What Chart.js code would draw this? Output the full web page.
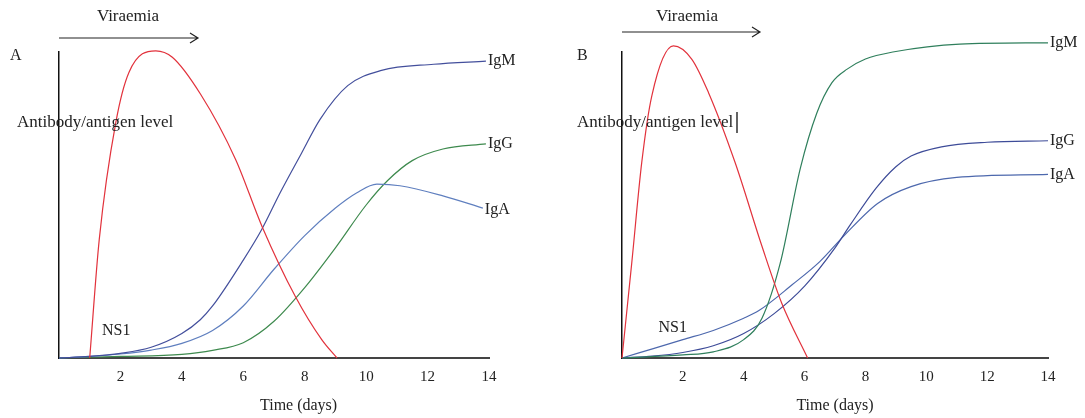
<!DOCTYPE html>
<html>
<head>
<meta charset="utf-8">
<script src="https://cdn.jsdelivr.net/npm/chart.js@4"></script>
<style>
  body { margin: 0; background: #fff; }
  #wrap { position: relative; width: 1085px; height: 418px; }
  canvas { position: absolute; top: 0; }
  #chartA { left: 0; }
  #chartB { left: 540px; }
</style>
</head>
<body>
<div id="wrap">
  <canvas id="chartA" width="540" height="418"></canvas>
  <canvas id="chartB" width="545" height="418"></canvas>
</div>
<script>
// Panel A values (time in days, relative level)
const ns1A = [[1, 0], [1.31, 38.7], [1.85, 77], [2.28, 93.4], [3.15, 100.4], [3.69, 98.3], [4.61, 86.2], [5.75, 64.9], [6.61, 43], [7.7, 20], [8.56, 5.9], [9.05, 0]];
const igmA = [[0, 0], [1, 0.5], [2, 1.5], [3, 3.5], [4, 8], [4.6, 12.5], [5, 17], [6, 32], [6.6, 42], [7.2, 54], [7.9, 67], [8.5, 78], [9.4, 89], [10.5, 94], [12.2, 96], [13.9, 97]];
const igaA = [[0, 0], [1, 0.5], [2, 1.3], [3, 2.6], [4, 4.8], [5, 9], [6, 17], [7, 29], [8, 40], [9, 49], [9.7, 54], [10.35, 56.8], [11.1, 56.3], [12.5, 53], [13.8, 49]];
const iggA = [[0, 0], [2, 0.5], [4, 1.2], [5, 2.5], [6, 5], [7, 12], [8, 23], [9, 36], [10, 50], [10.7, 58], [11.5, 64.5], [12.5, 68.3], [13.9, 70]];

// Panel B values
const ns1B = [[0, 0], [0.32, 31], [0.65, 64], [0.98, 85.7], [1.69, 102], [2.29, 97.7], [2.84, 86.8], [3.72, 63.8], [4.6, 36.5], [5.25, 17.9], [6.1, 0]];
const igmB = [[0, 0], [2, 1], [3, 2], [4, 6], [4.6, 13], [5.2, 31], [5.86, 62], [6.4, 80], [6.9, 90], [7.4, 94.4], [8, 97.7], [8.9, 100], [11.1, 102.6], [14, 103]];
const iggB = [[0, 0], [1, 0.6], [2, 1.8], [3, 4], [4, 8], [5, 14.5], [6, 23.5], [7, 36], [7.5, 43.5], [8.35, 55.5], [9, 62.5], [9.5, 66], [10.5, 69], [12, 70.5], [14, 71]];
const igaB = [[0, 0], [1, 3], [2, 6], [3, 9], [4, 13], [4.5, 15.5], [5.6, 24], [6.5, 31.5], [7.3, 40], [8.4, 50.5], [9.5, 56], [11, 59], [14, 60]];

const xTicks = [2, 4, 6, 8, 10, 12, 14];
const SERIF = '"Liberation Serif", "DejaVu Serif", serif';

function pts(arr) {
    return arr.map(p => ({ x: p[0], y: p[1] }));
}

function line(data, color, label) {
    return {
        label: label,
        data: pts(data),
        borderColor: color,
        borderWidth: 1.2,
        pointRadius: 0,
        fill: false,
        cubicInterpolationMode: 'monotone',
        clip: false
    };
}

// Draw the panel texts: letter, Viraemia arrow, axis labels and curve names
function notesPlugin(cfg) {
    return {
        id: 'notes',
        afterDraw(chart) {
            const c = chart.ctx;
            const xs = chart.scales.x, ys = chart.scales.y;
            c.save();
            c.fillStyle = '#222';
            c.textBaseline = 'middle';

            c.font = '16px ' + SERIF;
            c.fillText(cfg.letter, cfg.letterX, cfg.letterY);
            c.textAlign = 'center';
            c.font = '17px ' + SERIF;
            c.fillText('Viraemia', cfg.virX, 17);

            // x axis title
            c.font = '16px ' + SERIF;
            c.fillText('Time (days)', xs.getPixelForValue(cfg.titleDay), 406);

            // arrow
            c.strokeStyle = '#222';
            c.lineWidth = 1.2;
            c.beginPath();
            c.moveTo(cfg.arrow[0], cfg.arrowY);
            c.lineTo(cfg.arrow[1], cfg.arrowY);
            c.moveTo(cfg.arrow[1] - 8, cfg.arrowY - 5);
            c.lineTo(cfg.arrow[1], cfg.arrowY);
            c.lineTo(cfg.arrow[1] - 8, cfg.arrowY + 5);
            c.stroke();

            c.textAlign = 'left';
            c.font = '17px ' + SERIF;
            c.fillText('Antibody/antigen level', cfg.levelX, 123);
            if (cfg.cursor) {
                c.lineWidth = 1.4;
                c.beginPath();
                c.moveTo(cfg.cursor, 112);
                c.lineTo(cfg.cursor, 133);
                c.stroke();
            }

            c.font = '16px ' + SERIF;
            c.fillText('NS1', xs.getPixelForValue(cfg.ns1[0]), ys.getPixelForValue(cfg.ns1[1]));

            cfg.ends.forEach(e => {
                const last = e.data[e.data.length - 1];
                c.fillText(e.name, xs.getPixelForValue(last[0]) + 2, ys.getPixelForValue(last[1]) + e.dy);
            });
            c.restore();
        }
    };
}

function makeChart(id, datasets, pad, notes) {
    return new Chart(document.getElementById(id), {
        type: 'line',
        data: { datasets: datasets },
        options: {
            responsive: false,
            animation: false,
            layout: { padding: pad },
            plugins: { legend: { display: false }, tooltip: { enabled: false } },
            scales: {
                x: {
                    type: 'linear',
                    min: 0,
                    max: 14,
                    afterFit: s => { s.height = 60; },
                    afterBuildTicks: s => { s.ticks = xTicks.map(v => ({ value: v })); },
                    grid: { display: false, drawTicks: false },
                    border: { color: '#444', width: 2 },
                    ticks: { color: '#222', padding: 10, maxRotation: 0, font: { family: SERIF, size: 15 } },
                    title: { display: false }
                },
                y: {
                    min: 0,
                    max: 100,
                    afterFit: s => { s.width = 0; },
                    grid: { display: false, drawTicks: false },
                    border: { color: '#111', width: 1.5 },
                    ticks: { display: false }
                }
            }
        },
        plugins: [notesPlugin(notes)]
    });
}

makeChart('chartA', [
    line(ns1A, '#e2323c', 'NS1'),
    line(igmA, '#434f9c', 'IgM'),
    line(igaA, '#5f7fbf', 'IgA'),
    line(iggA, '#3e8a4e', 'IgG')
], { left: 59, right: 51, top: 52, bottom: 0 }, {
    letter: 'A', letterX: 10, letterY: 56,
    virX: 128, arrow: [59, 198], arrowY: 38,
    levelX: 17, cursor: null,
    titleDay: 7.8,
    ns1: [1.4, 9],
    ends: [
        { name: 'IgM', data: igmA, dy: 0 },
        { name: 'IgG', data: iggA, dy: 0 },
        { name: 'IgA', data: igaA, dy: 2 }
    ]
});

makeChart('chartB', [
    line(ns1B, '#e2323c', 'NS1'),
    line(igmB, '#2f7f5c', 'IgM'),
    line(iggB, '#3d4b98', 'IgG'),
    line(igaB, '#4d68ad', 'IgA')
], { left: 82, right: 37, top: 52, bottom: 0 }, {
    letter: 'B', letterX: 37, letterY: 56,
    virX: 147, arrow: [82, 220], arrowY: 32,
    levelX: 37, cursor: 197,
    titleDay: 7.0,
    ns1: [1.2, 10],
    ends: [
        { name: 'IgM', data: igmB, dy: 0 },
        { name: 'IgG', data: iggB, dy: 0 },
        { name: 'IgA', data: igaB, dy: 0 }
    ]
});
</script>
</body>
</html>
